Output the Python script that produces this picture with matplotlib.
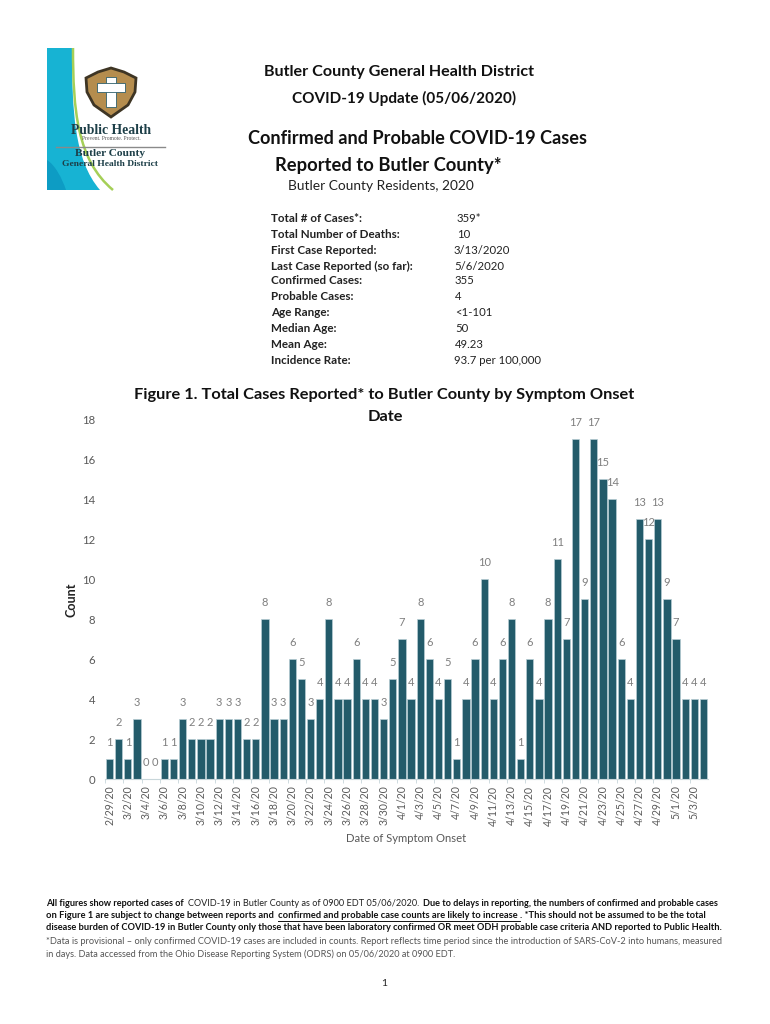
"""Butler County COVID-19 update page: header block, onset bar chart, footnote."""
import matplotlib
matplotlib.use("Agg")
import matplotlib.pyplot as plt
from matplotlib.patches import PathPatch, Polygon, Rectangle
from matplotlib.path import Path

plt.rcParams["font.family"] = ["Lato", "DejaVu Sans"]

dates = ["2/29/20", "3/1/20", "3/2/20", "3/3/20", "3/4/20", "3/5/20", "3/6/20", "3/7/20",
         "3/8/20", "3/9/20", "3/10/20", "3/11/20", "3/12/20", "3/13/20", "3/14/20", "3/15/20",
         "3/16/20", "3/17/20", "3/18/20", "3/19/20", "3/20/20", "3/21/20", "3/22/20", "3/23/20",
         "3/24/20", "3/25/20", "3/26/20", "3/27/20", "3/28/20", "3/29/20", "3/30/20", "3/31/20",
         "4/1/20", "4/2/20", "4/3/20", "4/4/20", "4/5/20", "4/6/20", "4/7/20", "4/8/20",
         "4/9/20", "4/10/20", "4/11/20", "4/12/20", "4/13/20", "4/14/20", "4/15/20", "4/16/20",
         "4/17/20", "4/18/20", "4/19/20", "4/20/20", "4/21/20", "4/22/20", "4/23/20", "4/24/20",
         "4/25/20", "4/26/20", "4/27/20", "4/28/20", "4/29/20", "4/30/20", "5/1/20", "5/2/20",
         "5/3/20", "5/4/20"]
counts = [1, 2, 1, 3, 0, 0, 1, 1, 3, 2, 2, 2, 3, 3, 3, 2, 2, 8, 3, 3, 6, 5, 3, 4, 8, 4, 4, 6, 4, 4,
          3, 5, 7, 4, 8, 6, 4, 5, 1, 4, 6, 10, 4, 6, 8, 1, 6, 4, 8, 11, 7, 17, 9, 17, 15, 14, 6, 4,
          13, 12, 13, 9, 7, 4, 4, 4]

stat_labels = ["Total # of Cases*:", "Total Number of Deaths:", "First Case Reported:",
               "Last Case Reported (so far):", "Confirmed Cases:", "Probable Cases:",
               "Age Range:", "Median Age:", "Mean Age:", "Incidence Rate:"]
stat_values = ["359*", "10", "3/13/2020", "5/6/2020", "355", "4", "<1-101", "50", "49.23",
               "93.7 per 100,000"]
stat_y = [218, 234, 250, 266, 281, 297, 313, 329, 344, 361]
stat_x = [457, 457, 454, 454, 455, 455, 455, 455, 455, 454]

# (text, style) runs; style b = bold black, u = bold underlined, r = regular dark, g = regular grey
footnote = [
    (46, 723, 904, [("All figures show reported cases of ", "b"), ("COVID-19 in Butler County as of 0900 EDT 05/06/2020. ", "r"),
                    ("Due to delays in reporting, the numbers of confirmed and probable cases", "b")]),
    (46, 707, 916, [("on Figure 1 are subject to change between reports and ", "b"),
                    ("confirmed and probable case counts are likely to increase", "u"),
                    (". *This should not be assumed to be the total", "b")]),
    (46, 722, 928, [("disease burden of COVID-19 in Butler County only those that have been laboratory confirmed OR meet ODH probable case criteria AND reported to Public Health.", "b")]),
    (46, 724, 941, [("*Data is provisional \u2013 only confirmed COVID-19 cases are included in counts. Report reflects time period since the introduction of SARS-CoV-2 into humans, measured", "g")]),
    (46, 453, 954, [("in days. Data accessed from the Ohio Disease Reporting System (ODRS) on 05/06/2020 at 0900 EDT.", "g")]),
]

BAR = "#235b6a"
GREY = "#595959"


def fit_runs(page, renderer, x0, x1, y, runs, size=7.0):
    """Lay mixed-weight runs on one line and scale them to span x0..x1 pixels."""
    styles = {"b": ("bold", "#111111"), "u": ("bold", "#111111"), "r": ("normal", "#222222"),
              "g": ("normal", "#555555")}
    pieces = []
    for text, style in runs:
        weight, color = styles[style]
        # plain spaces at the end of a run are not measured, so use no-break spaces
        t = page.text(x0, y, text.replace(" ", "\u00a0"), fontsize=size, fontweight=weight,
                      color=color, va="center", ha="left")
        pieces.append((t, style))
    widths = [t.get_window_extent(renderer).width for t, _ in pieces]
    scale = (x1 - x0) / sum(widths)
    x = x0
    for (t, style), w in zip(pieces, widths):
        t.set_fontsize(size * scale)
        t.set_x(x)
        if style == "u":
            page.plot([x, x + w * scale], [y + 4.5, y + 4.5], color="#111111", lw=0.7)
        x += w * scale


def draw_logo(page):
    """Public Health badge at the top left of the page."""
    blue = Path([(47, 48), (72, 48), (72, 110), (74, 160), (100, 190), (47, 190), (47, 48)],
                [Path.MOVETO, Path.LINETO, Path.CURVE4, Path.CURVE4, Path.CURVE4, Path.LINETO,
                 Path.CLOSEPOLY])
    page.add_patch(PathPatch(blue, fc="#17b3d3", ec="none"))
    low = Path([(47, 160), (55, 165), (62, 178), (66, 190), (47, 190), (47, 160)],
               [Path.MOVETO, Path.CURVE4, Path.CURVE4, Path.CURVE4, Path.LINETO, Path.CLOSEPOLY])
    page.add_patch(PathPatch(low, fc="#0d9cc4", ec="none"))
    green = Path([(73, 48), (73, 110), (77, 160), (113, 190)],
                 [Path.MOVETO, Path.CURVE4, Path.CURVE4, Path.CURVE4])
    page.add_patch(PathPatch(green, fc="none", ec="#a5cf57", lw=1.8))

    shield = [(86, 78), (98, 72), (111, 68), (124, 72), (136, 78), (135, 92), (128, 105),
              (111, 117), (94, 105), (87, 92)]
    page.add_patch(Polygon(shield, closed=True, fc="#b58d4e", ec="#3e3524", lw=2))
    page.add_patch(Rectangle((106, 77), 10, 30, fc="white", ec="#2e5f6b", lw=0.6))
    page.add_patch(Rectangle((97, 83), 28, 9, fc="white", ec="#2e5f6b", lw=0.6))
    page.add_patch(Rectangle((106.5, 83.5), 9, 8, fc="white", ec="none"))

    serif = ["Liberation Serif", "DejaVu Serif"]
    page.text(111, 130, "Public Health", family=serif, fontweight="bold", fontsize=9.8,
              color="#1d3f48", ha="center", va="center")
    page.text(111, 139, "Prevent. Promote. Protect.", family=serif, fontsize=4, color="#555555",
              ha="center", va="center")
    page.plot([56, 165], [147, 147], color="#8a8a8a", lw=1)
    page.text(110, 154, "Butler County", family=serif, fontweight="bold", fontsize=8.2,
              color="#1d3f48", ha="center", va="center")
    page.text(110, 164, "General Health District", family=serif, fontweight="bold", fontsize=6.8,
              color="#1d3f48", ha="center", va="center")


def draw_header(page):
    page.text(399, 72, "Butler County General Health District", fontsize=11.6, fontweight="bold",
              color="#111111", ha="center", va="center")
    page.text(404, 98, "COVID-19 Update (05/06/2020)", fontsize=11, fontweight="bold",
              color="#111111", ha="center", va="center")
    page.text(417, 138, "Confirmed and Probable COVID-19 Cases", fontsize=13.05, fontweight="bold",
              color="#111111", ha="center", va="center")
    page.text(388.5, 165, "Reported to Butler County*", fontsize=13.2, fontweight="bold",
              color="#111111", ha="center", va="center")
    page.text(380.5, 186, "Butler County Residents, 2020", fontsize=9.9, color="#222222",
              ha="center", va="center")
    for label, value, y, x in zip(stat_labels, stat_values, stat_y, stat_x):
        page.text(271, y, label, fontsize=8.4, fontweight="bold", color="#222222", va="center")
        page.text(x, y, value, fontsize=8.2, color="#222222", va="center")
    page.text(384.5, 395, "Figure 1. Total Cases Reported* to Butler County by Symptom Onset",
              fontsize=11.75, fontweight="bold", color="#111111", ha="center", va="center")
    page.text(385, 417, "Date", fontsize=11.75, fontweight="bold", color="#111111", ha="center",
              va="center")


def draw_chart(fig):
    # axes box in page pixels: x 105..708, y 419..779
    ax = fig.add_axes([105 / 770, 1 - 779.3 / 1024, 603 / 770, 360.3 / 1024])
    ax.patch.set_alpha(0)
    x = list(range(len(counts)))
    bars = ax.bar(x, counts, width=0.8, color=BAR, edgecolor="#b7ced4", linewidth=0.5)
    ax.bar_label(bars, padding=8, fontsize=8, color="#7f7f7f")

    ax.set_xlim(-0.5, len(counts) - 0.5)
    ax.set_ylim(0, 18)
    ax.set_yticks(range(0, 19, 2))
    ax.tick_params(axis="y", length=0, labelsize=8.2, labelcolor=GREY, pad=7)

    ax.set_xticks([i - 0.5 for i in x[::2]])
    ax.set_xticklabels([])
    ax.tick_params(axis="x", length=3, width=0.6, color="#c8d6da")
    for i in x[::2]:
        ax.annotate(dates[i], (i, 0), xytext=(0, -4.5), textcoords="offset points", rotation=90,
                    ha="center", va="top", fontsize=7.6, color=GREY, annotation_clip=False)

    for side in ["top", "right", "left"]:
        ax.spines[side].set_visible(False)
    ax.spines["bottom"].set_color("#c8d6da")
    ax.spines["bottom"].set_linewidth(0.8)
    return ax


def main():
    fig = plt.figure(figsize=(7.7, 10.24), dpi=100, facecolor="white")
    page = fig.add_axes([0, 0, 1, 1])
    page.set_xlim(0, 770)
    page.set_ylim(1024, 0)
    page.axis("off")

    draw_logo(page)
    draw_header(page)
    draw_chart(fig)

    page.text(72, 600, "Count", rotation=90, fontsize=9, fontweight="bold", color="#222222",
              ha="center", va="center")
    page.text(406, 838, "Date of Symptom Onset", fontsize=8.1, color=GREY, ha="center",
              va="center")

    renderer = fig.canvas.get_renderer()
    for x0, x1, y, runs in footnote:
        fit_runs(page, renderer, x0, x1, y, runs)
    page.text(384, 983, "1", fontsize=7.5, color="#222222", ha="center", va="center")

    page.set_xlim(0, 770)
    page.set_ylim(1024, 0)
    fig.savefig("out.png", dpi=100)
    plt.close(fig)


if __name__ == "__main__":
    main()
